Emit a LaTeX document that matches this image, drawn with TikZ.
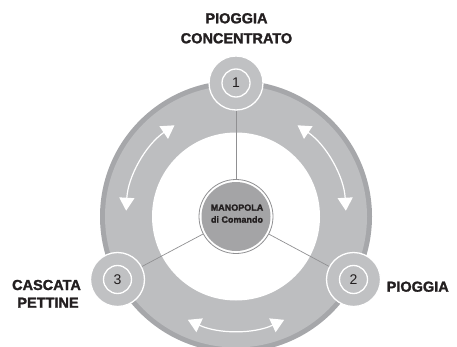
\documentclass[tikz,border=0pt]{standalone}
\usepackage{fontspec}
\setmainfont{Liberation Sans}
\newfontfamily\heavyfont{Liberation Sans}[BoldFeatures={FakeBold=1.6}]
\usetikzlibrary{arrows.meta}
\definecolor{ringlight}{HTML}{BDBEC0}
\definecolor{ringdark}{HTML}{A6A7AA}
\definecolor{badge}{HTML}{C0C1C3}
\definecolor{knobgray}{HTML}{A4A4A6}
\definecolor{spokegray}{HTML}{909092}
\definecolor{ink}{HTML}{231F20}
\tikzset{
  label/.style={font=\fontsize{14.5}{17}\selectfont\heavyfont\bfseries, text=ink, inner sep=0pt, anchor=base},
  knobtext/.style={font=\fontsize{9}{11}\selectfont\heavyfont\bfseries, text=ink, inner sep=0pt, anchor=base},
  badgenode/.style={circle, minimum size=54pt, inner sep=0pt, fill=badge, draw=white, line width=1.3pt},
  badgenum/.style={circle, minimum size=28pt, inner sep=0pt, draw=white, line width=1.3pt, text=ink, font=\fontsize{14}{16}\selectfont},
  spoke/.style={draw=spokegray, line width=0.7pt},
  swing/.style={draw=white, line width=1.2pt, {Triangle[width=15pt,length=13pt,fill=white]}-{Triangle[width=15pt,length=13pt,fill=white]}}
}
\begin{document}
\begin{tikzpicture}[x=1pt,y=1pt]
\useasboundingbox (0,0) rectangle (457,346);
\coordinate (c) at (236,129.5);
% ring
\fill[ringdark] (c) circle (136pt);
\fill[ringlight] (c) circle (131pt);
\fill[white] (c) circle (84pt);
% swing arrows
\draw[swing] ([shift={(124:110pt)}]c) arc (124:177:110pt);
\draw[swing] ([shift={(56:110pt)}]c) arc (56:3:110pt);
\draw[swing] ([shift={(-115:114pt)}]c) arc (-115:-65:114pt);
% knob
\node[circle, minimum size=74pt, inner sep=0pt, fill=white, draw=spokegray, line width=0.8pt] (knob) at (c) {};
\node[circle, minimum size=69pt, inner sep=0pt, fill=knobgray] (knobin) at (c) {};
\node[knobtext] (k1) at (237,135.3) {MANOPOLA};
\node[knobtext] (k2) at (237,123.3) {di Comando};
% badges
\node[badgenode] (n1) at (236,263) {};
\node[badgenode] (n2) at (353.5,66.5) {};
\node[badgenode] (n3) at (117.5,66.5) {};
\node[badgenum] (d1) at (n1) {1};
\node[badgenum] (d2) at (n2) {2};
\node[badgenum] (d3) at (n3) {3};
% spokes
\draw[spoke] (knob) -- (n1);
\draw[spoke] (knob) -- (n2);
\draw[spoke] (knob) -- (n3);
% labels
\node[label] (t1a) at (236.5,322.7) {PIOGGIA};
\node[label] (t1b) at (236.5,302.7) {CONCENTRATO};
\node[label] (t3a) at (46.5,56) {CASCATA};
\node[label] (t3b) at (48,38.3) {PETTINE};
\node[label, anchor=base west] (t2) at (386.5,54.3) {PIOGGIA};
\end{tikzpicture}
\end{document}
